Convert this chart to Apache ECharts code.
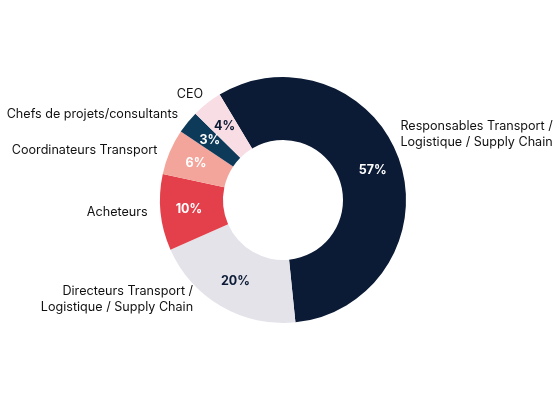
<!DOCTYPE html>
<html><head><meta charset="utf-8">
<script src="https://cdn.jsdelivr.net/npm/echarts@6/dist/echarts.min.js"></script>
<style>html,body{margin:0;padding:0;background:#fff}#c{width:555px;height:393px}</style>
</head><body><div id="c"></div>
<script>
const categories = ["Responsables Transport /\nLogistique / Supply Chain","Directeurs Transport /\nLogistique / Supply Chain","Acheteurs","Coordinateurs Transport","Chefs de projets/consultants","CEO"];
const values = [57,20,10,6,3,4];
const colors = ["#0b1a35","#e4e3ea","#e4404b","#f3a59b","#0e3a5a","#f8dde4"];
const pctColors = ["#ffffff","#0b1a35","#ffffff","#ffffff","#ffffff","#0b1a35"];
// label nudges (layout only)
const labelShift = [[-14,-25],[-16,-12],[2,-1],[2,1],[4,-4],[9,-4]];
const FONT = "Inter";
function draw(){
  const chart = echarts.init(document.getElementById('c'));
  const dataInner = categories.map((c,i)=>({name:c,value:values[i],itemStyle:{color:colors[i]},label:{color:pctColors[i]}}));
  const dataOuter = categories.map((c,i)=>({name:c,value:values[i]}));
  chart.setOption({
    animation:false,
    backgroundColor:'#fff',
    series:[{
      type:'pie', center:[283,200], radius:[60,123], startAngle:121, clockwise:true,
      data:dataInner,
      label:{show:true, position:'inside', formatter:'{c}%', fontFamily:FONT, fontWeight:'bold', fontSize:12.5},
      labelLine:{show:false}, itemStyle:{borderWidth:0}
    },{
      type:'pie', center:[283,200], radius:[60,123], startAngle:121, clockwise:true,
      data:dataOuter, silent:true,
      itemStyle:{color:'rgba(0,0,0,0)'},
      label:{show:true, position:'outside', formatter:'{b}', fontFamily:FONT, fontSize:12.6, color:'#111', lineHeight:16, textAlign:'center', overflow:'none'},
      labelLine:{show:false, length:6, length2:4},
      labelLayout:function(p){const s=labelShift[p.dataIndex];return {dx:s[0],dy:s[1]};}
    }]
  });
}
if (document.fonts && document.fonts.load) {
  Promise.all([document.fonts.load('12px Inter'), document.fonts.load('bold 12px Inter')]).then(draw, draw);
} else { draw(); }
</script></body></html>
